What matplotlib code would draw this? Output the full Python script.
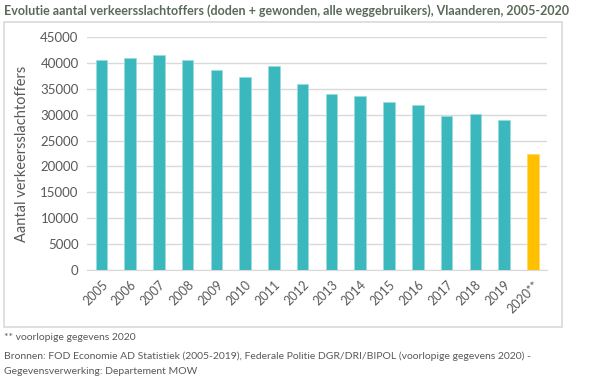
import matplotlib.pyplot as plt
from matplotlib.patches import Rectangle

plt.rcParams['font.family'] = ['Lato', 'DejaVu Sans']

years = ["2005", "2006", "2007", "2008", "2009", "2010", "2011", "2012",
         "2013", "2014", "2015", "2016", "2017", "2018", "2019", "2020**"]
victims = [40500, 41000, 41550, 40500, 38700, 37350, 39350, 35900,
           33900, 33650, 32500, 31900, 29800, 30200, 29000, 22500]
yticks = [0, 5000, 10000, 15000, 20000, 25000, 30000, 35000, 40000, 45000]

teal = "#3BB8BD"
gold = "#FFC000"
grey = "#595959"
colors = [teal] * (len(years) - 1) + [gold]
edges = ["#9ADCDE"] * (len(years) - 1) + ["#FFD966"]

fig = plt.figure(figsize=(6, 3.8), dpi=100)
ax = fig.add_axes([0.145, 0.289, 0.767, 0.614])

# chart frame
fig.patches.append(Rectangle((4 / 600, 1 - 327 / 380), 558 / 600, 305 / 380,
                             transform=fig.transFigure, fill=False,
                             edgecolor="#D9D9D9", linewidth=1.2))

x = range(len(years))
ax.bar(x, victims, width=0.4, color=colors, edgecolor=edges, linewidth=0.6, zorder=3)

ax.set_xlim(-0.5, len(years) - 0.5)
ax.set_ylim(0, 45000)
ax.set_yticks(yticks)
ax.set_yticklabels([str(v) for v in yticks], color=grey, fontsize=9.5)
ax.set_xticks(list(x))
ax.set_xticklabels(years, rotation=45, ha="right", rotation_mode="anchor",
                   color=grey, fontsize=9)
ax.yaxis.grid(True, color="#D9D9D9", linewidth=1, zorder=0)
ax.tick_params(length=0, pad=6)
for s in ["top", "right", "left"]:
    ax.spines[s].set_visible(False)
ax.spines["bottom"].set_color("#D9D9D9")
ax.set_ylabel("Aantal verkeersslachtoffers", color=grey, fontsize=10.5, labelpad=8)

fig.text(4 / 600, 1 - 11 / 380, "Evolutie aantal verkeersslachtoffers (doden + gewonden, alle weggebruikers), Vlaanderen, 2005-2020",
         fontsize=9.0, fontweight="bold", color="#5A6A5A", va="center")
fig.text(4 / 600, 1 - 338 / 380, "** voorlopige gegevens 2020", fontsize=7.5, color=grey, va="center")
fig.text(4 / 600, 1 - 356 / 380, "Bronnen: FOD Economie AD Statistiek (2005-2019), Federale Politie DGR/DRI/BIPOL (voorlopige gegevens 2020) -",
         fontsize=7.5, color=grey, va="center")
fig.text(4 / 600, 1 - 372 / 380, "Gegevensverwerking: Departement MOW", fontsize=7.5, color=grey, va="center")

fig.savefig("out.png", dpi=100)
